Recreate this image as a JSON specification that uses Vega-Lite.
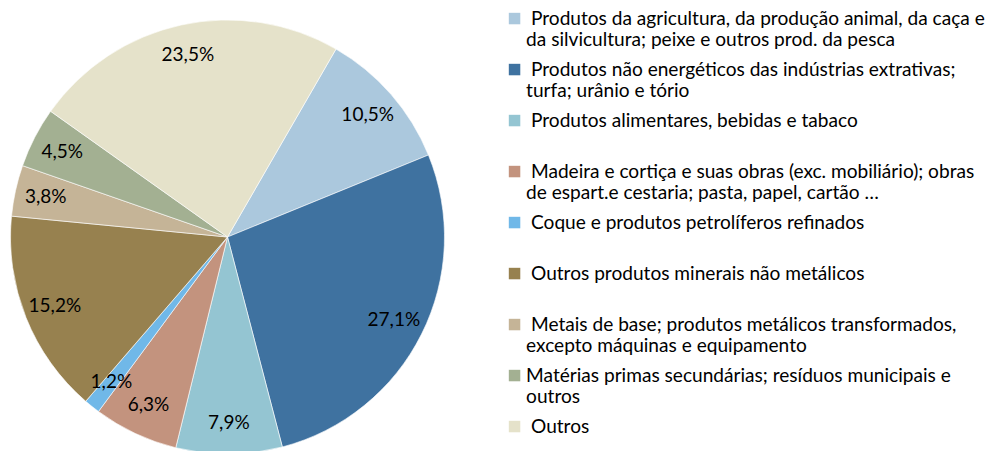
{
  "$schema": "https://vega.github.io/schema/vega-lite/v6.json",
  "width": 455,
  "height": 474,
  "padding": 0,
  "background": "white",
  "config": {
    "view": {"stroke": null},
    "locale": {"number": {"decimal": ",", "thousands": ".", "grouping": [3], "currency": ["", " €"]}},
    "style": {"guide-label": {"lineHeight": 21}}
  },
  "data": {
    "values": [
      {"idx": 1, "cat": "Produtos da agricultura, da produção animal, da caça e\nda silvicultura; peixe e outros prod. da pesca", "share": 0.105},
      {"idx": 2, "cat": "Produtos não energéticos das indústrias extrativas;\nturfa; urânio e tório", "share": 0.271},
      {"idx": 3, "cat": "Produtos alimentares, bebidas e tabaco", "share": 0.079},
      {"idx": 4, "cat": "Madeira e cortiça e suas obras (exc. mobiliário); obras\nde espart.e cestaria; pasta, papel, cartão …", "share": 0.063},
      {"idx": 5, "cat": "Coque e produtos petrolíferos refinados", "share": 0.012},
      {"idx": 6, "cat": "Outros produtos minerais não metálicos", "share": 0.152},
      {"idx": 7, "cat": "Metais de base; produtos metálicos transformados,\nexcepto máquinas e equipamento", "share": 0.038},
      {"idx": 8, "cat": "Matérias primas secundárias; resíduos municipais e\noutros", "share": 0.045},
      {"idx": 9, "cat": "Outros", "share": 0.235}
    ]
  },
  "encoding": {
    "theta": {"field": "share", "type": "quantitative", "stack": true, "scale": {"range": [0.5236, 6.8068]}},
    "order": {"field": "idx", "type": "quantitative"},
    "color": {
      "field": "cat",
      "type": "nominal",
      "sort": null,
      "scale": {"range": ["#abc8dd", "#3f72a0", "#94c5d2", "#c3937e", "#70b8e8", "#97814f", "#c5b497", "#a3b092", "#e5e2ca"]},
      "legend": {
        "orient": "none",
        "direction": "vertical",
        "legendX": 505,
        "legendY": 9,
        "title": null,
        "padding": 0,
        "symbolType": "square",
        "symbolSize": 132,
        "symbolStrokeWidth": 0,
        "symbolOffset": 0,
        "labelOffset": 2,
        "labelFont": "Lato",
        "labelFontSize": 19.1,
        "labelColor": "#000000",
        "labelLimit": 800,
        "labelBaseline": "middle",
        "rowPadding": 10,
        "labelExpr": "split((indexof(datum.label, 'Matérias') == 0 ? '' : '\u200b\u00a0') + datum.label + (indexof(datum.label, '\\n') < 0 ? '\\n' : ''), '\\n')"
      }
    }
  },
  "layer": [
    {"mark": {"type": "arc", "outerRadius": 217, "stroke": "#ffffff", "strokeWidth": 0.6}},
    {
      "mark": {"type": "text", "radius": 186, "font": "Lato", "fontSize": 19},
      "encoding": {
        "text": {"field": "share", "type": "quantitative", "format": ".1%"},
        "color": {"value": "#000000"},
        "detail": {"field": "cat", "type": "nominal"}
      }
    }
  ]
}
